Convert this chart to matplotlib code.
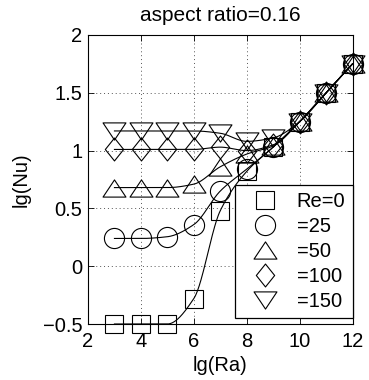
import numpy as np
import matplotlib
matplotlib.use("Agg")
import matplotlib.pyplot as plt
from matplotlib.path import Path

lg_ra = [3, 4, 5, 6, 7, 8, 9, 10, 11, 12]
re_labels = ["Re=0", "=25", "=50", "=100", "=150"]
nu_re0 = [-0.50, -0.50, -0.50, -0.28, 0.48, 0.82, 1.03, 1.25, 1.50, 1.75]
nu_re25 = [0.24, 0.24, 0.255, 0.36, 0.65, 0.84, 1.03, 1.25, 1.50, 1.75]
nu_re50 = [0.68, 0.68, 0.68, 0.71, 0.86, 0.97, 1.04, 1.25, 1.50, 1.75]
nu_re100 = [1.01, 1.01, 1.01, 1.01, 1.03, 1.00, 1.05, 1.25, 1.50, 1.75]
nu_re150 = [1.17, 1.17, 1.17, 1.17, 1.15, 1.08, 1.11, 1.25, 1.50, 1.75]
series = [nu_re0, nu_re25, nu_re50, nu_re100, nu_re150]


def pchip(x, y, xn):
    x = np.asarray(x, float); y = np.asarray(y, float)
    h = np.diff(x); d = np.diff(y) / h
    n = len(x); m = np.zeros(n)
    for k in range(1, n - 1):
        if d[k - 1] * d[k] > 0:
            w1 = 2 * h[k] + h[k - 1]; w2 = h[k] + 2 * h[k - 1]
            m[k] = (w1 + w2) / (w1 / d[k - 1] + w2 / d[k])
    m[0] = d[0]; m[-1] = d[-1]
    idx = np.clip(np.searchsorted(x, xn) - 1, 0, n - 2)
    t = (xn - x[idx]) / h[idx]
    h00 = 2 * t**3 - 3 * t**2 + 1; h10 = t**3 - 2 * t**2 + t
    h01 = -2 * t**3 + 3 * t**2; h11 = t**3 - t**2
    return h00 * y[idx] + h10 * h[idx] * m[idx] + h01 * y[idx + 1] + h11 * h[idx] * m[idx + 1]


tri_up = Path([(-1, -0.75), (1, -0.75), (0, 0.75), (-1, -0.75)], closed=True)
tri_dn = Path([(-1, 0.75), (1, 0.75), (0, -0.75), (-1, 0.75)], closed=True)
diam = Path([(0, 1), (0.8, 0), (0, -1), (-0.8, 0), (0, 1)], closed=True)
markers = ['s', 'o', tri_up, diam, tri_dn]
msizes = [12.5, 14.5, 16.5, 16.5, 16.5]

FS = 14.5
plt.rcParams['font.family'] = ['Liberation Sans', 'DejaVu Sans']
fig = plt.figure(figsize=(3.69, 3.80), dpi=100)
ax = fig.add_axes([88 / 369, 1 - 324 / 380, (352.5 - 88) / 369, (324 - 35) / 380])

xs = np.linspace(lg_ra[0], lg_ra[-1], 400)
for ys in series:
    ax.plot(xs, pchip(lg_ra, ys, xs), color='black', lw=0.8)
for ys, mk, ms, lab in zip(series, markers, msizes, re_labels):
    ax.plot(lg_ra, ys, linestyle='none', marker=mk, ms=ms, mfc='none', mec='black',
            mew=0.8, label=lab, clip_on=False, zorder=3)

ax.set_xlim(2, 12)
ax.set_ylim(-0.5, 2)
ax.set_xticks([2, 4, 6, 8, 10, 12])
ax.set_yticks([-0.5, 0, 0.5, 1, 1.5, 2])
ax.set_yticklabels(['\u22120.5', '0', '0.5', '1', '1.5', '2'])
ax.grid(True, color='#555555', linestyle=(0, (1, 3)), linewidth=0.7)
ax.tick_params(direction='in', top=True, right=True, length=4, width=0.6, labelsize=FS)
ax.tick_params(axis='x', pad=5.5)
ax.tick_params(axis='y', pad=4)
for s in ax.spines.values():
    s.set_linewidth(0.8)
    s.set_zorder(4)
ax.set_xlabel('lg(Ra)', fontsize=FS, labelpad=4)
ax.set_ylabel('lg(Nu)', fontsize=FS, labelpad=9)
ax.set_title('aspect ratio=0.16', fontsize=15, pad=10)

leg = ax.legend(loc='lower right', bbox_to_anchor=(1.0, 0.02), borderaxespad=0,
                fontsize=14.5, frameon=True, fancybox=False, edgecolor='black',
                handlelength=2.2, handletextpad=0.5, labelspacing=0.3, borderpad=0.35,
                framealpha=1)
leg.get_frame().set_linewidth(0.9)
leg.set_zorder(5)

fig.savefig('out.png', dpi=100)
